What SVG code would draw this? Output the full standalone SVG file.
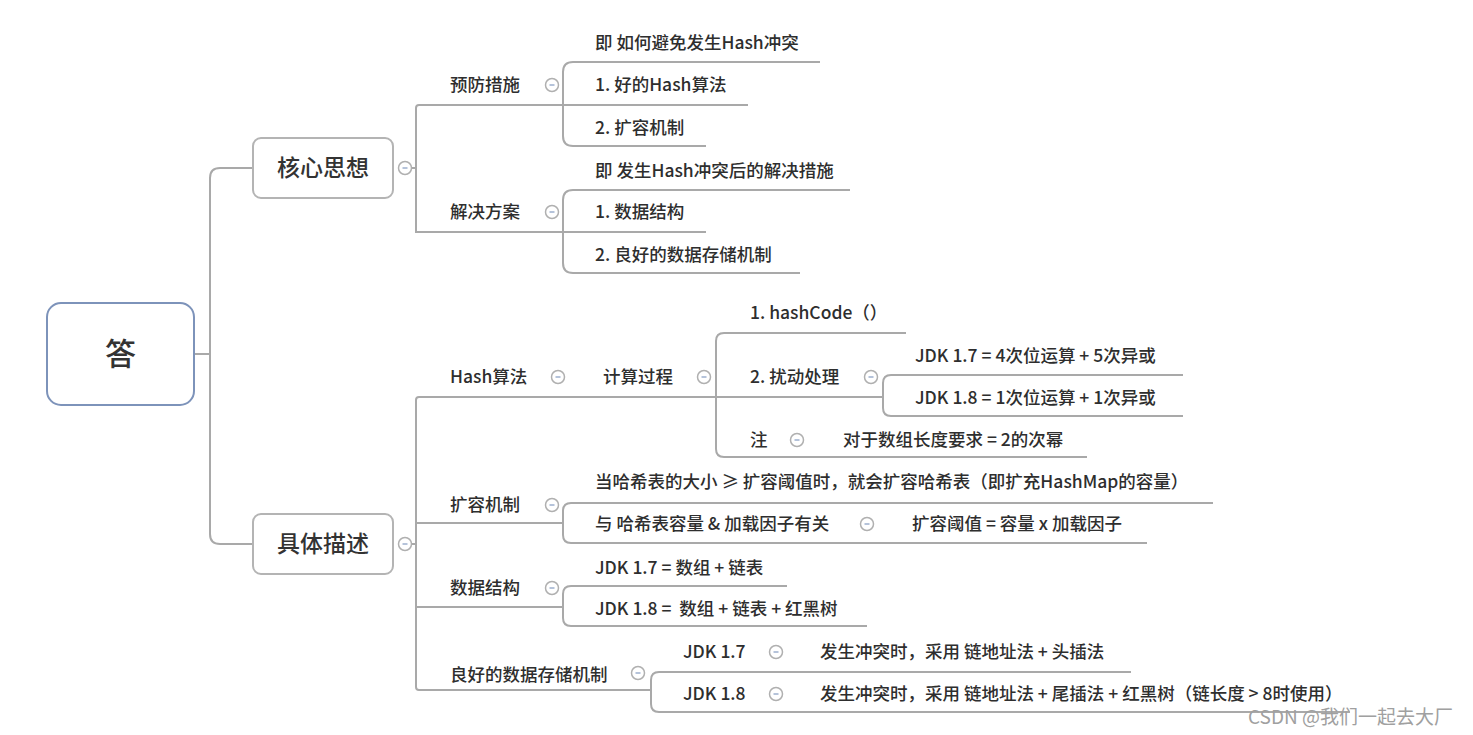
<svg xmlns="http://www.w3.org/2000/svg" width="1473" height="735" viewBox="0 0 1473 735">
<style>
.ln{fill:none;stroke:#a9a9a9;stroke-width:2}
.t{font-family:"Noto Sans CJK SC","Microsoft YaHei",sans-serif;font-size:17.5px;font-weight:500;fill:#2e2e2e}
.nt{font-family:"Noto Sans CJK SC",sans-serif;font-size:23px;font-weight:500;fill:#333}
.box{fill:#fff;stroke:#b4b4b4;stroke-width:2}
</style>
<defs>
<g id="col"><circle cx="0" cy="0" r="6.5" fill="#fff" stroke="#b0b0b0" stroke-width="1.5"/><line x1="-2.5" y1="0" x2="2.5" y2="0" stroke="#8da2c6" stroke-width="1.3"/></g>
</defs>
<rect width="1473" height="735" fill="#fff"/>
<g id="connectors">
<path class="ln" d="M194,354 H210"/>
<path class="ln" d="M253,168 H220 Q210,168 210,178 V534 Q210,544 220,544 H253"/>
<path class="ln" d="M411,168 H416"/>
<path class="ln" d="M748,105 H419 Q416,105 416,108 V232 H706"/>
<path class="ln" d="M820,62 H573 Q563,62 563,72 V136 Q563,146 573,146 H706"/>
<path class="ln" d="M850,190 H573 Q563,190 563,200 V263 Q563,273 573,273 H800"/>
<path class="ln" d="M411,544 H416"/>
<path class="ln" d="M883,397 H419 Q416,397 416,400 V687 Q416,690 419,690 H651"/>
<path class="ln" d="M416,523 H563"/>
<path class="ln" d="M416,607 H563"/>
<path class="ln" d="M906,333 H724 Q716,333 716,341 V449 Q716,457 724,457 H1087"/>
<path class="ln" d="M1183,375 H891 Q883,375 883,383 V408 Q883,416 891,416 H1183"/>
<path class="ln" d="M1213,503 H571 Q563,503 563,511 V535 Q563,543 571,543 H1147"/>
<path class="ln" d="M787,586 H571 Q563,586 563,594 V618 Q563,626 571,626 H867"/>
<path class="ln" d="M1131,672 H659 Q651,672 651,680 V704 Q651,712 659,712 H1350"/>
</g>
<g id="root">
<rect x="47" y="303" width="147" height="102" rx="14" fill="#fff" stroke="#7d93ba" stroke-width="2"/>
<text x="120.5" y="365" text-anchor="middle" font-family="Noto Sans CJK SC,sans-serif" font-size="31" font-weight="500" fill="#333">答</text>
</g>
<g id="n-core">
<rect class="box" x="253" y="138" width="140" height="60" rx="8"/>
<text class="nt" x="323" y="176" text-anchor="middle">核心思想</text>
<use href="#col" x="405" y="168"/>
</g>
<g id="n-detail">
<rect class="box" x="253" y="514" width="140" height="60" rx="8"/>
<text class="nt" x="323" y="552" text-anchor="middle">具体描述</text>
<use href="#col" x="405" y="544"/>
</g>
<g id="n-prevent">
<text class="t" x="450" y="91">预防措施</text>
<use href="#col" x="552" y="85"/>
<text class="t" x="595" y="49">即 如何避免发生Hash冲突</text>
<text class="t" x="595" y="91">1. 好的Hash算法</text>
<text class="t" x="595" y="134">2. 扩容机制</text>
</g>
<g id="n-solve">
<text class="t" x="450" y="218">解决方案</text>
<use href="#col" x="552" y="212"/>
<text class="t" x="595" y="177">即 发生Hash冲突后的解决措施</text>
<text class="t" x="595" y="218">1. 数据结构</text>
<text class="t" x="595" y="261">2. 良好的数据存储机制</text>
</g>
<g id="n-hash">
<text class="t" x="450" y="383">Hash算法</text>
<use href="#col" x="558" y="377"/>
<text class="t" x="603" y="383">计算过程</text>
<use href="#col" x="704" y="377"/>
<text class="t" x="750" y="319">1. hashCode（）</text>
<text class="t" x="750" y="383">2. 扰动处理</text>
<use href="#col" x="871" y="377"/>
<text class="t" x="915" y="362">JDK 1.7 = 4次位运算 + 5次异或</text>
<text class="t" x="915" y="404">JDK 1.8 = 1次位运算 + 1次异或</text>
<text class="t" x="750" y="446">注</text>
<use href="#col" x="797" y="440"/>
<text class="t" x="843" y="446">对于数组长度要求 = 2的次幂</text>
</g>
<g id="n-resize">
<text class="t" x="450" y="511">扩容机制</text>
<use href="#col" x="552" y="505"/>
<text class="t" x="595" y="488">当哈希表的大小 ≥ 扩容阈值时，就会扩容哈希表（即扩充HashMap的容量）</text>
<text class="t" x="595" y="530">与 哈希表容量 &amp; 加载因子有关</text>
<use href="#col" x="867" y="524"/>
<text class="t" x="912" y="530">扩容阈值 = 容量 x 加载因子</text>
</g>
<g id="n-struct">
<text class="t" x="450" y="594">数据结构</text>
<use href="#col" x="552" y="588"/>
<text class="t" x="595" y="574">JDK 1.7 = 数组 + 链表</text>
<text class="t" x="595" y="615" xml:space="preserve">JDK 1.8 =  数组 + 链表 + 红黑树</text>
</g>
<g id="n-store">
<text class="t" x="450" y="681">良好的数据存储机制</text>
<use href="#col" x="638" y="673"/>
<text class="t" x="683" y="658">JDK 1.7</text>
<use href="#col" x="776" y="652"/>
<text class="t" x="820" y="658">发生冲突时，采用 链地址法 + 头插法</text>
<text class="t" x="683" y="700">JDK 1.8</text>
<use href="#col" x="776" y="694"/>
<text class="t" x="820" y="700">发生冲突时，采用 链地址法 + 尾插法 + 红黑树（链长度 &gt; 8时使用）</text>
</g>
<text x="1248" y="724" font-family="Noto Sans CJK SC,sans-serif" font-size="19" fill="#a0a0a0">CSDN @我们一起去大厂</text>
</svg>
